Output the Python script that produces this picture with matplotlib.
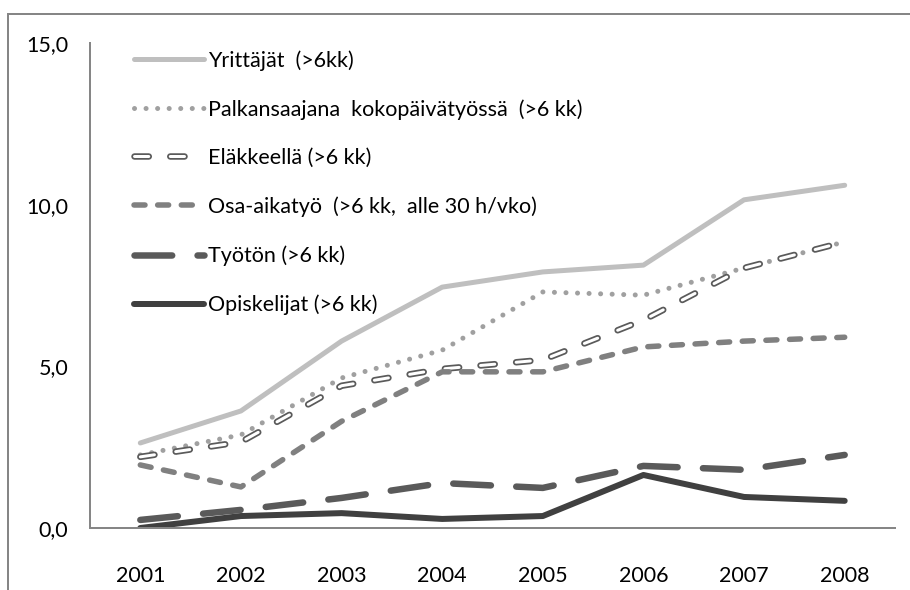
import numpy as np
import matplotlib
matplotlib.use("Agg")
import matplotlib.pyplot as plt
import matplotlib.patheffects as pe
from matplotlib.patches import Rectangle

plt.rcParams['font.family'] = ['Lato', 'DejaVu Sans']

years = ['2001', '2002', '2003', '2004', '2005', '2006', '2007', '2008']

# values (%)
yrittajat = [2.63, 3.62, 5.78, 7.45, 7.92, 8.13, 10.15, 10.6]
palkansaajat = [2.26, 2.88, 4.64, 5.5, 7.3, 7.2, 8.04, 8.85]
elakkeella = [2.2, 2.66, 4.4, 4.92, 5.2, 6.43, 8.04, 8.85]
osa_aika = [1.95, 1.27, 3.3, 4.83, 4.83, 5.6, 5.78, 5.9]
tyoton = [0.25, 0.56, 0.93, 1.39, 1.24, 1.92, 1.8, 2.26]
opiskelijat = [0.0, 0.37, 0.46, 0.28, 0.37, 1.64, 0.96, 0.84]

labels = ['Yrittäjät  (>6kk)',
          'Palkansaajana  kokopäivätyössä  (>6 kk)',
          'Eläkkeellä (>6 kk)',
          'Osa-aikatyö  (>6 kk,  alle 30 h/vko)',
          'Työtön (>6 kk)',
          'Opiskelijat (>6 kk)']

W, H = 910, 590
fig = plt.figure(figsize=(W / 100, H / 100), dpi=100)
ax = fig.add_axes([90 / W, (H - 528) / H, (895 - 90) / W, (528 - 43) / H])

x = np.arange(len(years))
px = 72 / 100  # points per pixel

ax.plot(x, yrittajat, color='#bfbfbf', lw=5 * px, solid_capstyle='round',
        label=labels[0])
ax.plot(x, palkansaajat, color='#a0a0a0', lw=5 * px, dash_capstyle='round',
        dashes=(0.01, 2.3), label=labels[1])
ax.plot(x, elakkeella, color='white', lw=6.5 * px, dash_capstyle='round',
        dashes=(2.2, 3.3), label=labels[2],
        path_effects=[pe.Stroke(linewidth=6.5 * px, foreground='#5a5a5a'),
                      pe.Stroke(linewidth=3 * px, foreground='white')])
ax.plot(x, osa_aika, color='#808080', lw=5.5 * px, dash_capstyle='round',
        dashes=(2.0, 2.3), label=labels[3])
ax.plot(x, tyoton, color='#5a5a5a', lw=6.5 * px, dash_capstyle='round',
        dashes=(5.8, 3.9), label=labels[4])
ax.plot(x, opiskelijat, color='#404040', lw=6 * px, solid_capstyle='round',
        label=labels[5])

fs = 15.5
fs_px = fs / px

ax.set_xlim(-0.5, len(years) - 0.5)
ax.set_ylim(0, 15)
ax.set_xticks(x)
ax.set_xticklabels(years)
ax.set_yticks([0, 5, 10, 15])
ax.set_yticklabels(['0,0', '5,0', '10,0', '15,0'])
ax.tick_params(axis='both', length=0, labelsize=fs, colors='black')
ax.tick_params(axis='y', pad=15.8)
ax.tick_params(axis='x', pad=27.5)

for s in ['top', 'right']:
    ax.spines[s].set_visible(False)
for s in ['left', 'bottom']:
    ax.spines[s].set_color('#868686')
    ax.spines[s].set_linewidth(2 * px)

leg = ax.legend(loc='upper left', bbox_to_anchor=(134 / W, 1 - 50 / H),
                bbox_transform=fig.transFigure, frameon=False, fontsize=fs,
                handlelength=70 / fs_px, handletextpad=4 / fs_px,
                labelspacing=1.32, borderpad=0, borderaxespad=0)

# outer chart border
fig.patches.append(Rectangle((8 / W, -0.1), 1.2, 1.1 - 14 / H,
                             transform=fig.transFigure, fill=False,
                             edgecolor='#868686', lw=2 * px))

fig.savefig('out.png', dpi=100)
